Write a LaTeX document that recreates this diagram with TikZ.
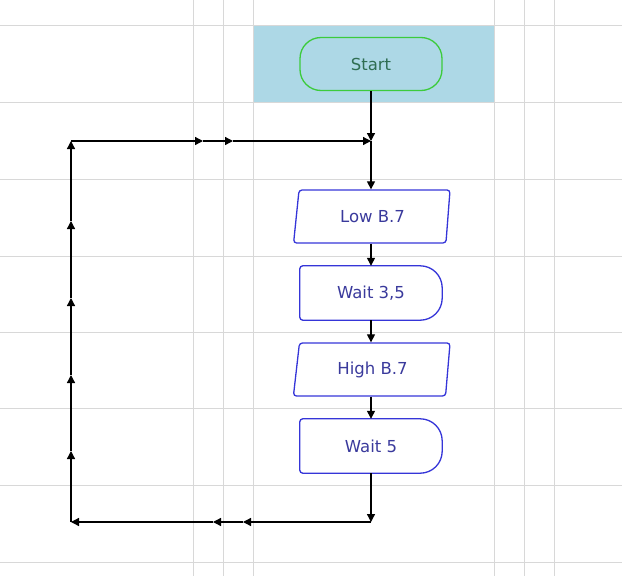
\documentclass[tikz,border=0pt]{standalone}
\usepackage{fontspec}
\setmainfont{DejaVu Sans}
\usetikzlibrary{arrows.meta,shapes.geometric}
\definecolor{gridc}{HTML}{D8D8D8}
\definecolor{bgblue}{HTML}{ADD8E6}
\definecolor{boxblue}{HTML}{3535D8}
\definecolor{txtblue}{HTML}{3A3A9C}
\definecolor{startgreen}{HTML}{3CCB3C}
\definecolor{starttxt}{HTML}{2F6E52}
\tikzset{
  gridline/.style={gridc, line width=1pt},
  conn/.style={line width=1.3pt, -{Triangle[length=8pt,width=8pt]}},
  startbox/.style={draw=startgreen, line width=1.3pt, rounded corners=21pt,
    minimum width=142pt, minimum height=53pt, text=starttxt, font=\fontsize{16.5}{18}\selectfont},
  iobox/.style={trapezium, trapezium left angle=82, trapezium right angle=96,
    trapezium stretches=true, draw=boxblue, line width=1.3pt, rounded corners=3pt,
    minimum width=157pt, minimum height=53pt, text=txtblue, font=\fontsize{16.5}{18}\selectfont},
  delaybox/.style={minimum width=142pt, minimum height=54pt, text=txtblue,
    font=\fontsize{16.5}{18}\selectfont},
  delayline/.style={draw=boxblue, line width=1.3pt},
}
\begin{document}
\begin{tikzpicture}[x=1pt,y=-1pt]
\useasboundingbox (0,0) rectangle (622,576);
% grid
\foreach \yy in {25,102,179,256,332,408,485,562} \draw[gridline] (0,\yy) -- (622,\yy);
\foreach \xx in {193,223,253,494,524,554} \draw[gridline] (\xx,0) -- (\xx,576);
% blue band
\fill[bgblue] (253.5,25.5) rectangle (493.5,101.5);
% nodes
\node[startbox] (start) at (371,64) {Start};
\node[iobox] (low) at (372.5,216.5) {Low B.7};
\node[delaybox] (w35) at (371,293) {Wait 3,5};
\node[iobox] (high) at (372.5,369.5) {High B.7};
\node[delaybox] (w5) at (371,446) {Wait 5};
\foreach \n in {w35,w5}{
  \draw[delayline] (\n.south west) [rounded corners=3pt] -- (\n.north west)
    [rounded corners=22pt] -- (\n.north east) -- (\n.south east)
    [rounded corners=3pt] -- cycle;
}
% coordinates
\coordinate (j) at (371,141);
\coordinate (bj) at (371,522);
\coordinate (bl) at (71,522);
\coordinate (tl) at (71,141);
\coordinate (b1) at (243,522);
\coordinate (b2) at (213,522);
\coordinate (l1) at (71,451);
\coordinate (l2) at (71,375);
\coordinate (l3) at (71,298);
\coordinate (l4) at (71,221);
\coordinate (t1) at (203,141);
\coordinate (t2) at (233,141);
% connectors
\draw[conn] (start.south) -- (j);
\draw[conn] (j) -- (low.north -| j);
\draw[conn] (low.south -| j) -- (w35.north);
\draw[conn] (w35.south) -- (high.north -| j);
\draw[conn] (high.south -| j) -- (w5.north);
\draw[conn] (w5.south) -- (bj);
\draw[conn] (bj) -- (b1);
\draw[conn] (b1) -- (b2);
\draw[conn] (b2) -- (bl);
\draw[conn] (bl) -- (l1);
\draw[conn] (l1) -- (l2);
\draw[conn] (l2) -- (l3);
\draw[conn] (l3) -- (l4);
\draw[conn] (l4) -- (tl);
\draw[conn] (tl) -- (t1);
\draw[conn] (t1) -- (t2);
\draw[conn] (t2) -- (j);
\end{tikzpicture}
\end{document}
